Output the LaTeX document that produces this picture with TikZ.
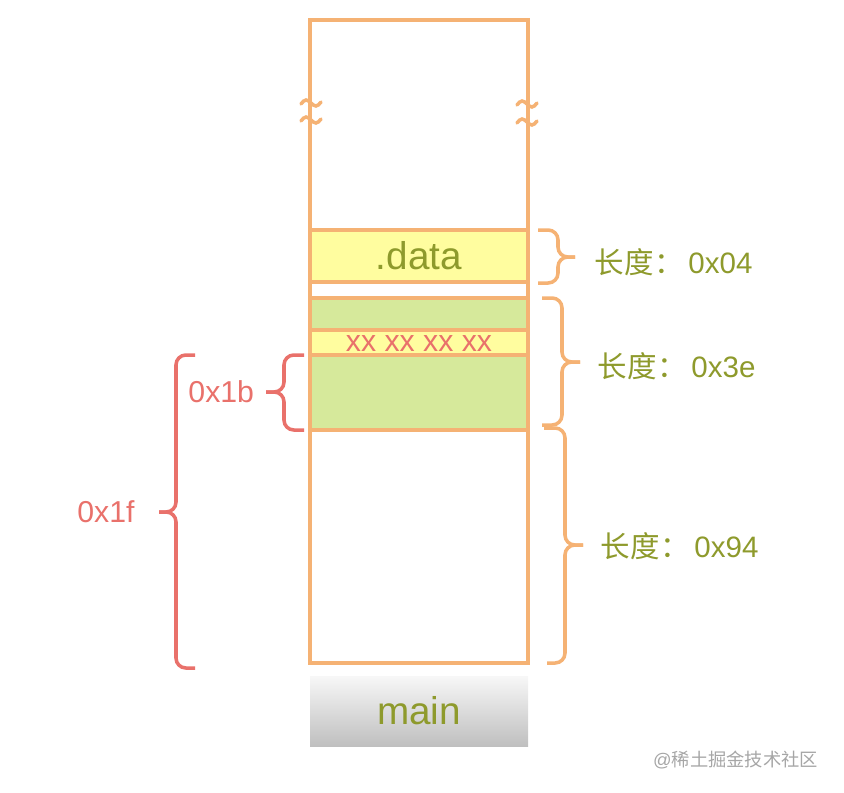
\documentclass[tikz,border=0pt]{standalone}
\usepackage{fontspec}
\setmainfont{Liberation Sans}
\newfontfamily\cjk{Noto Sans CJK SC}
\usepackage{tikz}
\usetikzlibrary{positioning}
\definecolor{memorange}{HTML}{F5B274}
\definecolor{memyellow}{HTML}{FFFD9F}
\definecolor{memgreen}{HTML}{D6E99B}
\definecolor{memred}{HTML}{E9716B}
\definecolor{memolive}{HTML}{8E9A2C}
\tikzset{
    col_line/.style = {
        draw=memorange,
        line width=2.7pt
    },
    tilde_line/.style = {
        draw=memorange,
        line width=2.5pt,
        line cap=round
    },
    brace_line/.style = {
        draw=memorange,
        line width=2.5pt,
        rounded corners=7pt
    },
    red_brace_line/.style = {
        draw=memred,
        line width=2.5pt,
        rounded corners=7pt
    },
    yellow_block/.style = {
        fill=memyellow
    },
    green_block/.style = {
        fill=memgreen
    },
    main_block/.style = {
        top color=gray!6,
        bottom color=gray!50
    },
    big_text/.style = {
        text=memolive,
        font=\fontsize{27.5pt}{30pt}\selectfont
    },
    len_text/.style = {
        text=memolive,
        anchor=west,
        font=\fontsize{21pt}{24pt}\selectfont
    },
    red_text/.style = {
        text=memred,
        font=\fontsize{21.5pt}{24pt}\selectfont
    },
    mark_text/.style = {
        text=gray!70,
        font=\fontsize{13pt}{15pt}\selectfont
    },
}

\begin{document}
\begin{tikzpicture}[x=0.025cm, y=-0.025cm]
    \useasboundingbox (0,0) rectangle (844,792);
    \begin{scope}
        % fills
        \path[yellow_block] (310,230) rectangle (528,282);
        \path[green_block] (310,298) rectangle (528,430);
        \path[yellow_block] (310,330) rectangle (528,355);

        % column and cuts
        \path[col_line] (310,20) rectangle (528,663);
        \path[col_line] (310,230) -- (528,230);
        \path[col_line] (310,282) -- (528,282);
        \path[col_line] (310,298) -- (528,298);
        \path[col_line] (310,330) -- (528,330);
        \path[col_line] (310,355) -- (528,355);
        \path[col_line] (310,430) -- (528,430);

        % break marks
        \foreach \bx/\by in {311/103, 311/120, 527/104, 527/122}
            \path[tilde_line] (\bx-10,\by+1) sin (\bx-5,\by-3) cos (\bx,\by) sin (\bx+5,\by+3) cos (\bx+10,\by-1);

        \node[big_text] (data) at (419,256) {.data};
        \node[red_text] (bytes) at (419,344) {xx xx xx xx};
    \end{scope}

    \path[main_block] (310,676) rectangle (528,746);
    \node[big_text] (main) at (419,711) {main};

    % right braces
    \path[brace_line] (538,230) -| (558,257) -- (575,257);
    \path[brace_line] (538,283) -| (558,257) -- (575,257);
    \path[brace_line] (542,298) -| (562,362) -- (580,362);
    \path[brace_line] (542,425) -| (562,362) -- (580,362);
    \path[brace_line] (544,428) -| (565,545) -- (583,545);
    \path[brace_line] (547,663) -| (565,545) -- (583,545);

    \node[len_text] (len1) at (590,262) {{\cjk 长度：}\,0x04};
    \node[len_text] (len2) at (593,366) {{\cjk 长度：}\,0x3e};
    \node[len_text] (len3) at (596,546) {{\cjk 长度：}\,0x94};

    % left braces
    \path[red_brace_line] (304,355) -| (284,392) -- (266,392);
    \path[red_brace_line] (304,430) -| (284,392) -- (266,392);
    \path[red_brace_line] (195,355) -| (176,512) -- (159,512);
    \path[red_brace_line] (195,668) -| (176,512) -- (159,512);

    \node[red_text, anchor=east] (off1b) at (259,392) {0x1b};
    \node[red_text] (off1f) at (106,512) {0x1f};

    \node[mark_text, anchor=east] (mark) at (823,760) {@{\cjk 稀土掘金技术社区}};
\end{tikzpicture}
\end{document}
